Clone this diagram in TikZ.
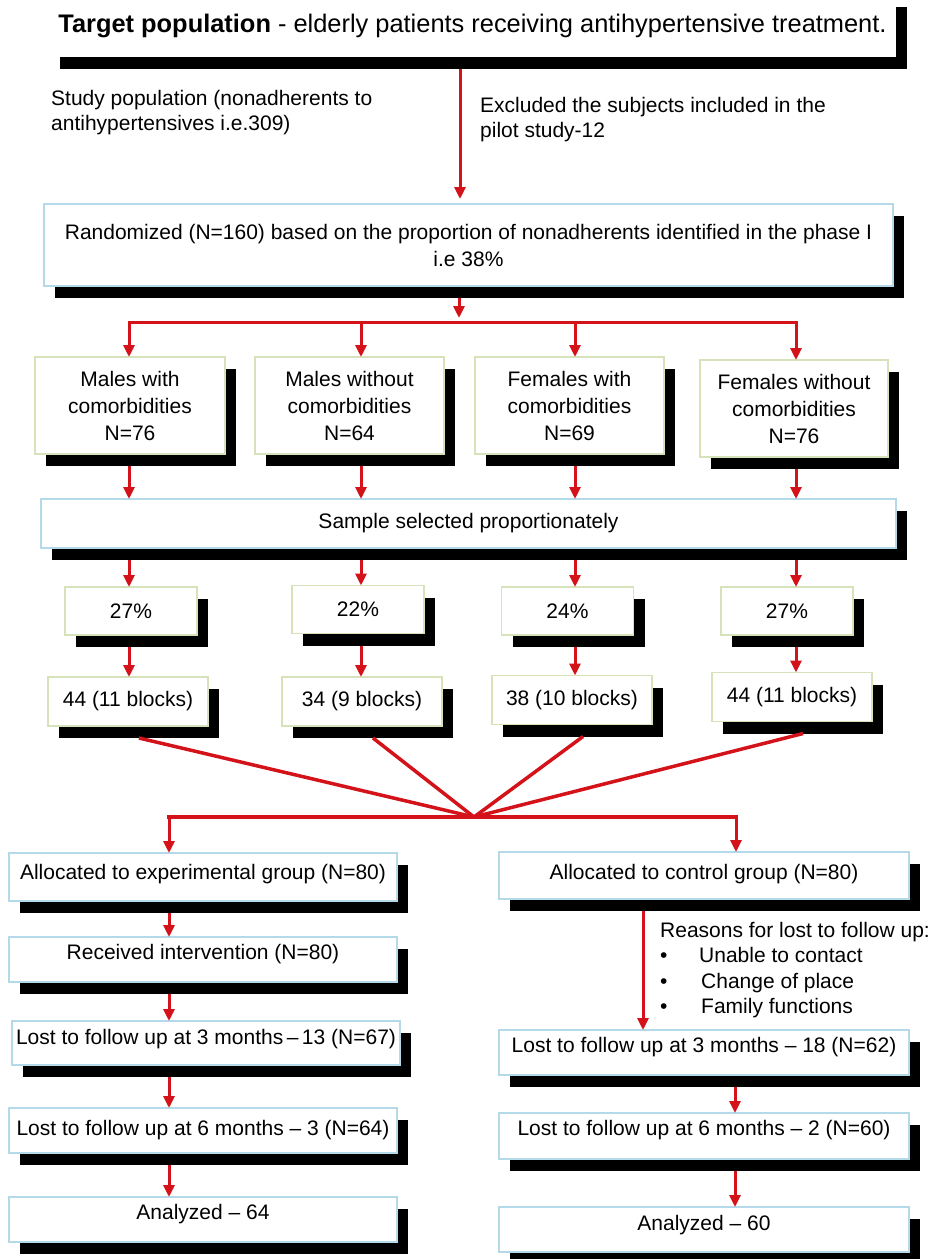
\documentclass[tikz,border=0pt]{standalone}
\usepackage{fontspec}
\setmainfont{Liberation Sans}
\usetikzlibrary{arrows.meta,shadows}
\definecolor{redline}{RGB}{212,18,26}
\definecolor{bblue}{RGB}{180,218,234}
\definecolor{bgreen}{RGB}{214,227,186}
\tikzset{
  base/.style={fill=white, line width=1.5pt, inner sep=0pt, outer sep=0pt,
    font=\fontsize{21}{27}\selectfont, align=center,
    drop shadow={shadow xshift=11pt, shadow yshift=-12pt, opacity=1, fill=black}},
  bluebox/.style={base, draw=bblue},
  greenbox/.style={base, draw=bgreen},
  rl/.style={draw=redline, line width=3pt},
  arr/.style={rl, -{Triangle[width=11pt,length=12pt]}},
  tt/.style 2 args={text height=#1pt, text depth=#2pt},
  plain/.style={inner sep=0pt, align=left, font=\fontsize{21}{25}\selectfont},
}
\begin{document}
\begin{tikzpicture}[x=1pt,y=-1pt]
\useasboundingbox (0,0) rectangle (935,1259);
% column coordinates
\coordinate (ca) at (460,0);
\coordinate (sp) at (459,322);
\coordinate (a1) at (129,0);
\coordinate (a2) at (361,0);
\coordinate (a3) at (575,0);
\coordinate (a4) at (796,0);
\coordinate (hub) at (474,817);
\coordinate (hl) at (169,817);
\coordinate (hr) at (736,817);
\coordinate (lc) at (169,0);
\coordinate (rc1) at (643,0);
\coordinate (rc2) at (735,0);

% top
\node[base, draw=none, minimum width=847pt, minimum height=62pt,
  font=\fontsize{25.4}{30}\selectfont] (top) at (472.5,26)
  {\textbf{Target population} - elderly patients receiving antihypertensive treatment.};
\node[plain, anchor=west] (study) at (51,112.5)
  {Study population (nonadherents to\\antihypertensives i.e.309)};
\node[plain, anchor=west] (excl) at (480,119.5)
  {Excluded the subjects included in the\\pilot study-12};

\node[bluebox, minimum width=849pt, minimum height=82pt] (rand) at (468.5,245)
  {Randomized (N=160) based on the proportion of nonadherents identified in the phase I\\i.e 38\%};

% groups
\begin{scope}[every node/.append style={font=\fontsize{21}{27.5}\selectfont}]
\node[greenbox, minimum width=190pt, minimum height=97pt] (g1) at (130,405.5) {Males with\\comorbidities\\N=76};
\node[greenbox, minimum width=189pt, minimum height=97pt] (g2) at (349.5,405.5) {Males without\\comorbidities\\N=64};
\node[greenbox, minimum width=189pt, minimum height=97pt] (g3) at (569.5,405.5) {Females with\\comorbidities\\N=69};
\node[greenbox, minimum width=188pt, minimum height=97pt] (g4) at (794,408.5) {Females without\\comorbidities\\N=76};
\end{scope}

\node[bluebox, minimum width=855pt, minimum height=49pt] (sample) at (468.5,523.5) {Sample selected proportionately};

% percentages
\node[greenbox, minimum width=132pt, minimum height=48pt] (p1) at (131,611) {27\%};
\node[greenbox, minimum width=132pt, minimum height=48pt] (p2) at (358,609.5) {22\%};
\node[greenbox, minimum width=132pt, minimum height=48pt] (p3) at (567.5,611) {24\%};
\node[greenbox, minimum width=132pt, minimum height=48pt] (p4) at (787,611) {27\%};

% blocks
\node[greenbox, minimum width=160pt, minimum height=49pt] (b1) at (128,701.5) {44 (11 blocks)};
\node[greenbox, minimum width=160pt, minimum height=49pt] (b2) at (362,701.5) {34 (9 blocks)};
\node[greenbox, minimum width=160pt, minimum height=49pt] (b3) at (572,700) {38 (10 blocks)};
\node[greenbox, minimum width=160pt, minimum height=49pt] (b4) at (792,697) {44 (11 blocks)};

% left column
\node[bluebox, minimum width=388pt, tt={26.5}{21.5}] (e1) at (203,877) {Allocated to experimental group (N=80)};
\node[bluebox, minimum width=388pt, tt={22.5}{22.5}] (e2) at (203,959.5) {Received intervention (N=80)};
\node[bluebox, minimum width=388pt, tt={23.5}{20.5}] (e3) at (206,1043) {Lost to follow up at 3 months\,--\,13 (N=67)};
\node[bluebox, minimum width=388pt, tt={27.5}{17.5}] (e4) at (203,1130.5) {Lost to follow up at 6 months -- 3 (N=64)};
\node[bluebox, minimum width=388pt, tt={22.5}{22.5}] (e5) at (203,1219.5) {Analyzed -- 64};

% right column
\node[bluebox, minimum width=410pt, tt={27.5}{19.5}] (c1) at (704,875.5) {Allocated to control group (N=80)};
\node[bluebox, minimum width=410pt, tt={22.5}{22.5}] (c2) at (704,1052.5) {Lost to follow up at 3 months -- 18 (N=62)};
\node[bluebox, minimum width=410pt, tt={22.5}{23.5}] (c3) at (704,1136) {Lost to follow up at 6 months -- 2 (N=60)};
\node[bluebox, minimum width=410pt, tt={23.5}{21.5}] (c4) at (704,1229.5) {Analyzed -- 60};

\node[plain, anchor=north west, font=\fontsize{21}{25.5}\selectfont] (reasons) at (660,922)
  {Reasons for lost to follow up:\\
   \makebox[39pt][l]{•}Unable to contact\\
   \makebox[41pt][l]{•}Change of place\\
   \makebox[41pt][l]{•}Family functions};

% connectors
\draw[arr, shorten >=5pt] ([yshift=-12pt]top.south -| ca) -- (ca |- rand.north);
\draw[arr, shorten >=4pt] ([yshift=-12pt]rand.south -| sp) -- (sp);
\draw[rl, line cap=rect] (a1 |- sp) -- (a4 |- sp);
\foreach \i in {1,2,3,4}{
  \draw[arr] (a\i |- sp) -- (a\i |- g\i.north);
  \draw[arr] ([yshift=-12pt]g\i.south -| a\i) -- (a\i |- sample.north);
  \draw[arr] ([yshift=-12pt]sample.south -| a\i) -- (a\i |- p\i.north);
  \draw[arr] ([yshift=-12pt]p\i.south -| a\i) -- (a\i |- b\i.north);
  \draw[rl, line width=3.5pt] ([shift={(11,12)}]b\i.south) -- (hub);
}
\draw[rl, line cap=rect, line width=3.5pt] (hl) -- (hr);
\draw[arr] (hl) -- (hl |- e1.north);
\draw[arr] (hr) -- (hr |- c1.north);
\draw[arr] ([yshift=-12pt]e1.south -| lc) -- (lc |- e2.north);
\draw[arr] ([yshift=-12pt]e2.south -| lc) -- (lc |- e3.north);
\draw[arr] ([yshift=-12pt]e3.south -| lc) -- (lc |- e4.north);
\draw[arr] ([yshift=-12pt]e4.south -| lc) -- (lc |- e5.north);
\draw[arr] ([yshift=-12pt]c1.south -| rc1) -- (rc1 |- c2.north);
\draw[arr] ([yshift=-12pt]c2.south -| rc2) -- (rc2 |- c3.north);
\draw[arr] ([yshift=-12pt]c3.south -| rc2) -- (rc2 |- c4.north);
\end{tikzpicture}
\end{document}
